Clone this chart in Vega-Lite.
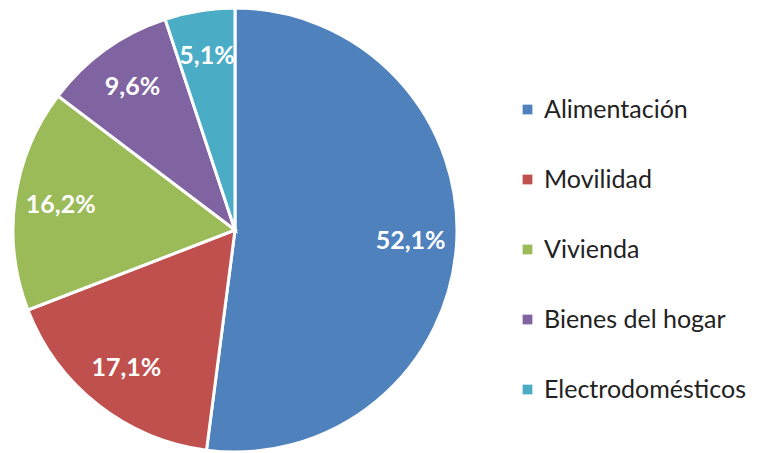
{
  "$schema": "https://vega.github.io/schema/vega-lite/v6.json",
  "width": 470,
  "height": 460,
  "padding": 0,
  "autosize": {"type": "pad"},
  "background": "white",
  "config": {"view": {"stroke": null}, "font": "Lato"},
  "data": {"values": [
    {"cat": "Alimentación", "v": 52.1, "label": "52,1%", "i": 1},
    {"cat": "Movilidad", "v": 17.1, "label": "17,1%", "i": 2},
    {"cat": "Vivienda", "v": 16.2, "label": "16,2%", "i": 3},
    {"cat": "Bienes del hogar", "v": 9.6, "label": "9,6%", "i": 4},
    {"cat": "Electrodomésticos", "v": 5.1, "label": "5,1%", "i": 5}
  ]},
  "encoding": {
    "theta": {"field": "v", "type": "quantitative", "stack": true},
    "order": {"field": "i", "type": "quantitative"},
    "color": {
      "field": "cat", "type": "nominal",
      "scale": {
        "domain": ["Alimentación", "Movilidad", "Vivienda", "Bienes del hogar", "Electrodomésticos"],
        "range": ["#4F81BD", "#C0504D", "#9BBB59", "#8064A2", "#4BACC6"]
      },
      "legend": {
        "title": null,
        "orient": "none",
        "legendX": 515,
        "legendY": 97,
        "symbolType": "square",
        "symbolSize": 95,
        "symbolStrokeWidth": 0,
        "labelFontSize": 25,
        "labelFont": "Lato",
        "labelColor": "#222222",
        "rowPadding": 44,
        "labelOffset": 4,
        "labelLimit": 400
      }
    }
  },
  "layer": [
    {"mark": {"type": "arc", "outerRadius": 222, "stroke": "white", "strokeWidth": 3}},
    {"mark": {"type": "text", "radius": 176, "fill": "white", "fontSize": 25, "fontWeight": "bold", "font": "Lato"},
     "encoding": {"text": {"field": "label"}, "color": {"value": "white"}}}
  ]
}
